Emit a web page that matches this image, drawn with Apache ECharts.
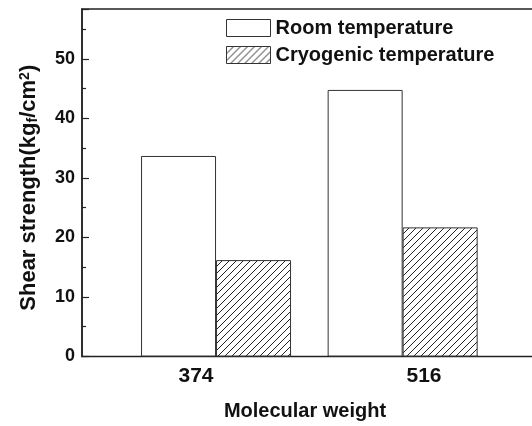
<!DOCTYPE html>
<html>
<head>
<meta charset="utf-8">
<script src="https://cdn.jsdelivr.net/npm/echarts@6/dist/echarts.min.js"></script>
<style>
  html, body { margin: 0; padding: 0; background: #fff; }
  #chart { width: 532px; height: 426px; }
</style>
</head>
<body>
<div id="chart"></div>
<script>
// Shear strength of the adhesive joints by molecular weight of the resin
const categories = ['374', '516'];
const molecularWeights = [374, 516];
const roomTemp = [33.7, 44.8];
const cryoTemp = [16.2, 21.7];
const seriesNames = ['Room temperature', 'Cryogenic temperature'];
const yTicks = [0, 10, 20, 30, 40, 50];

const FONT = '"Liberation Sans", Arial, Helvetica, sans-serif';
const INK = '#111';
const EDGE = '#333';

// Diagonal "/" hatch used for the cryogenic bars
function hatchPattern() {
  const s = 7;
  const c = document.createElement('canvas');
  c.width = s; c.height = s;
  const g = c.getContext('2d');
  g.fillStyle = '#fff';
  g.fillRect(0, 0, s, s);
  g.strokeStyle = '#222';
  g.lineWidth = 1;
  g.beginPath();
  g.moveTo(-1, s + 1); g.lineTo(s + 1, -1);
  g.moveTo(-1, 1); g.lineTo(1, -1);
  g.moveTo(s - 1, s + 1); g.lineTo(s + 1, s - 1);
  g.stroke();
  return { image: c, repeat: 'repeat' };
}

const chart = echarts.init(document.getElementById('chart'), null, { renderer: 'canvas' });

chart.setOption({
  animation: false,
  backgroundColor: '#fff',
  textStyle: { fontFamily: FONT },
  // plot frame runs past the right edge of the canvas
  grid: {
    left: 82, width: 456, top: 9, bottom: 69.5,
    outerBoundsMode: 'none',
    containLabel: false,
    show: true, borderColor: '#222', borderWidth: 1.5, backgroundColor: 'transparent'
  },
  legend: {
    orient: 'vertical',
    left: 226, top: 18,
    padding: 0,
    itemWidth: 44, itemHeight: 17, itemGap: 7,
    icon: 'rect',
    data: seriesNames,
    textStyle: { fontFamily: FONT, fontSize: 20, fontWeight: 'bold', color: INK },
    itemStyle: { borderColor: EDGE, borderWidth: 1 }
  },
  xAxis: [
    {
      type: 'category',
      data: categories,
      position: 'bottom',
      axisLine: { show: false },
      axisTick: { show: false },
      axisLabel: { fontFamily: FONT, fontSize: 21, fontWeight: 'bold', color: INK, margin: 9 },
      splitLine: { show: false },
      name: 'Molecular weight',
      nameLocation: 'middle',
      nameGap: 45,
      nameTextStyle: { fontFamily: FONT, fontSize: 20, fontWeight: 'bold', color: INK, padding: [0, 10, 0, 0] }
    },
    {
      type: 'value',
      min: 272, max: 619,
      show: false,
      splitLine: { show: false }
    }
  ],
  yAxis: {
    type: 'value',
    min: yTicks[0], max: 58.4, interval: yTicks[1] - yTicks[0],
    axisLine: { show: true, lineStyle: { color: '#222', width: 1.5 } },
    axisTick: { show: true, inside: true, length: 7, lineStyle: { color: '#222', width: 1.2 } },
    minorTick: { show: true, splitNumber: 2, length: 4, lineStyle: { color: '#222', width: 1.2 } },
    axisLabel: {
      fontFamily: FONT, fontSize: 18, fontWeight: 'bold', color: INK, margin: 7,
      showMaxLabel: false,
      formatter: v => (yTicks.includes(v) ? String(v) : '')
    },
    splitLine: { show: false },
    name: 'Shear strength(kg{sub|f}/cm{sup|2})',
    nameLocation: 'middle',
    nameRotate: 90,
    nameGap: 42,
    nameTextStyle: {
      fontFamily: FONT, fontSize: 22, fontWeight: 'bold', color: INK,
      padding: [0, 10, 0, 0],
      rich: {
        sub: { fontFamily: FONT, fontSize: 14, fontWeight: 'bold', color: INK, verticalAlign: 'bottom', lineHeight: 14, padding: [8, 0, 0, 0] },
        sup: { fontFamily: FONT, fontSize: 14, fontWeight: 'bold', color: INK, verticalAlign: 'top', lineHeight: 14, padding: [0, 0, 8, 0] }
      }
    }
  },
  series: [
    {
      name: seriesNames[0],
      type: 'bar',
      xAxisIndex: 1,
      barWidth: 75,
      barGap: '0%',
      data: molecularWeights.map((m, i) => [m, roomTemp[i]]),
      itemStyle: { color: '#fff', borderColor: EDGE, borderWidth: 1 }
    },
    {
      name: seriesNames[1],
      type: 'bar',
      xAxisIndex: 1,
      barWidth: 75,
      barGap: '0%',
      data: molecularWeights.map((m, i) => [m, cryoTemp[i]]),
      itemStyle: { color: hatchPattern(), borderColor: EDGE, borderWidth: 1 }
    }
  ]
});
</script>
</body>
</html>
